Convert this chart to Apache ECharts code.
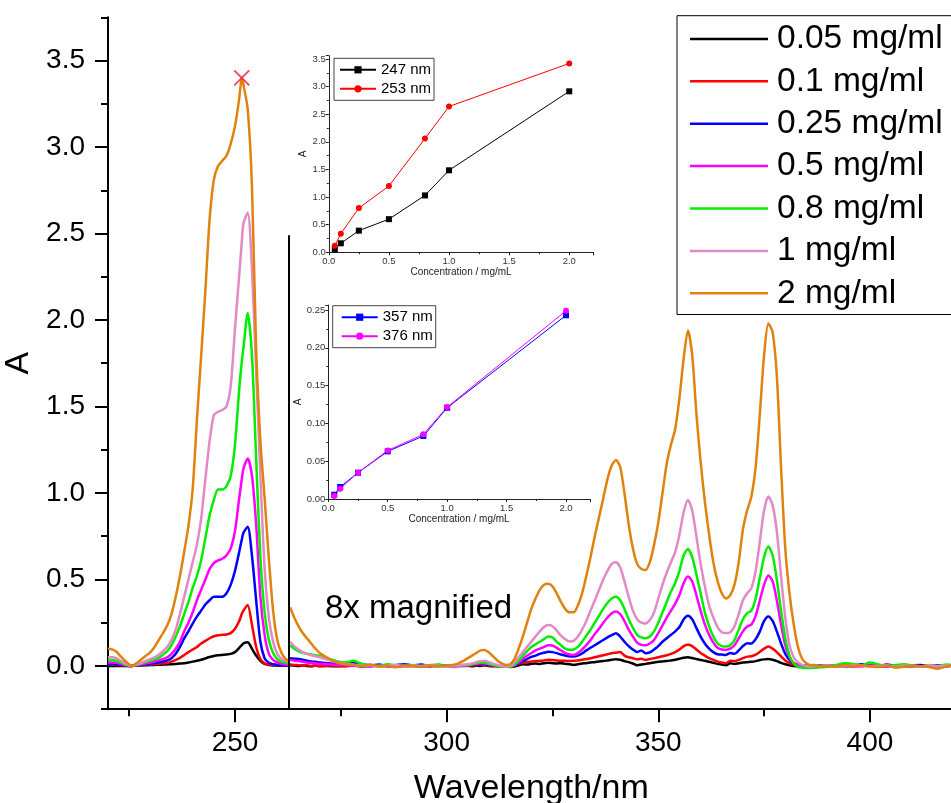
<!DOCTYPE html>
<html><head><meta charset="utf-8">
<script src="https://cdn.jsdelivr.net/npm/echarts@6/dist/echarts.min.js"></script>
<style>html,body{margin:0;padding:0;background:#fff}#c{width:951px;height:803px}</style>
</head><body><div id="c"></div>
<script>
// ---------- data ----------
const seriesNames = ['0.05 mg/ml','0.1 mg/ml','0.25 mg/ml','0.5 mg/ml','0.8 mg/ml','1 mg/ml','2 mg/ml'];
const seriesColors = ['#000000','#ff0000','#0000ff','#ff00ff','#00ee00','#e389c6','#e2820e'];

// wavelengths (nm) of the unmagnified part (left of the break)
const wlLeft = [220,221,222,223,224,225,225.6,226,227,228,229,230,231,232,233,234,235,236,237,238,239,240,241,242,243,244,245,246,247,248,249,250,251,251.6,252,253,254,255,256,257,258,259,260,261,262,262.8];
// wavelengths (nm) of the 8x magnified part (right of the break)
const wlRight = [263,264,265,266,267,268,269,270,272,274,276,278,280,282,284,286,288,290,292,294,296,298,300,302,
304,305,306,307,308,309,310,311,312,313,314,315,316,317,318,319,320,321,322,323,324,325,326,327,328,329,330,331,332,333,334,335,336,337,338,339,340,341,342,343,344,345,346,347,348,349,350,351,352,353,354,355,356,357,358,359,360,361,362,363,364,365,366,367,368,369,370,371,372,373,374,375,376,377,378,379,380,381,382,383,384,385,386,387,388,
390,392,394,396,398,400,402,404,406,408,410,412,414,416,418,420];

// absorbance, left part
const absL_005 = [0,0,0,0,0,0,0,0.001,0.002,0.003,0.004,0.005,0.006,0.007,0.008,0.009,0.01,0.012,0.014,0.016,0.02,0.025,0.03,0.036,0.044,0.052,0.058,0.062,0.064,0.066,0.07,0.08,0.105,0.12,0.13,0.137,0.10,0.06,0.03,0.012,0.006,0.003,0.002,0.001,0.001,0.001];
const absL_01 = [0.008,0.008,0.006,0.004,0.002,0,0,0.001,0.003,0.005,0.007,0.009,0.011,0.013,0.015,0.017,0.025,0.035,0.047,0.063,0.08,0.095,0.11,0.13,0.145,0.16,0.172,0.178,0.18,0.182,0.19,0.215,0.26,0.30,0.32,0.353,0.24,0.11,0.04,0.015,0.008,0.005,0.004,0.003,0.003,0.003];
const absL_025 = [0.012,0.012,0.01,0.007,0.004,0.001,0,0.001,0.004,0.007,0.01,0.013,0.017,0.021,0.026,0.032,0.045,0.07,0.11,0.16,0.20,0.245,0.285,0.32,0.355,0.38,0.40,0.40,0.40,0.42,0.47,0.55,0.66,0.73,0.77,0.805,0.64,0.38,0.14,0.045,0.018,0.01,0.006,0.004,0.003,0.003];
const absL_05 = [0.02,0.02,0.018,0.012,0.006,0.002,0,0.002,0.006,0.01,0.015,0.02,0.026,0.032,0.04,0.05,0.07,0.10,0.14,0.20,0.25,0.31,0.38,0.44,0.50,0.56,0.595,0.61,0.62,0.64,0.68,0.78,0.97,1.08,1.14,1.20,1.10,0.82,0.40,0.18,0.07,0.035,0.02,0.012,0.008,0.006];
const absL_08 = [0.035,0.035,0.03,0.02,0.01,0.003,0,0.002,0.008,0.015,0.022,0.03,0.038,0.048,0.065,0.085,0.12,0.17,0.23,0.30,0.37,0.45,0.52,0.61,0.74,0.87,0.96,1.02,1.02,1.04,1.10,1.28,1.60,1.76,1.84,2.04,1.80,1.20,0.63,0.31,0.15,0.075,0.04,0.025,0.018,0.015];
const absL_1 = [0.05,0.05,0.045,0.03,0.015,0.004,0,0.003,0.01,0.02,0.03,0.04,0.05,0.065,0.085,0.11,0.15,0.21,0.30,0.40,0.50,0.60,0.70,0.85,1.08,1.30,1.45,1.47,1.48,1.50,1.62,1.95,2.26,2.45,2.56,2.62,2.30,1.70,1.10,0.56,0.28,0.14,0.07,0.04,0.03,0.025];
const absL_2 = [0.10,0.096,0.082,0.055,0.03,0.008,0,0.004,0.02,0.04,0.06,0.08,0.11,0.15,0.19,0.235,0.30,0.40,0.52,0.66,0.81,1.02,1.42,1.79,2.17,2.58,2.81,2.89,2.92,2.95,3.02,3.12,3.28,3.40,3.36,3.22,2.78,1.83,1.30,0.97,0.62,0.32,0.15,0.075,0.04,0.03];

// displayed (8x magnified) absorbance, right part
const absR_005 = [0.004,0.002,0,0.003,0,-0.002,0.002,0,0,-0.002,0,0.002,-0.002,0,0.002,0,-0.003,0,0.002,-0.002,0,0.002,-0.002,0,
0,0.002,-0.002,0.002,0,0.004,0,-0.002,0,-0.004,-0.002,-0.006,-0.004,0.004,0.01,0.008,0.012,0.014,0.012,0.016,0.018,0.016,0.014,0.016,0.012,0.01,0.006,0.01,0.014,0.016,0.02,0.022,0.026,0.028,0.032,0.036,0.039,0.036,0.028,0.022,0.014,0.004,0.008,0.012,0.016,0.02,0.024,0.026,0.028,0.032,0.036,0.042,0.048,0.05,0.046,0.04,0.035,0.03,0.024,0.018,0.012,0.008,0.004,0.015,0.012,0.016,0.02,0.022,0.024,0.028,0.034,0.038,0.04,0.036,0.028,0.018,0.01,0.004,0,-0.002,-0.004,-0.002,0,-0.002,0,
0.002,0,-0.002,0,0.002,0,-0.002,0,0.002,0,-0.002,0,0.002,0,0,0.002];
const absR_01 = [0.008,0.006,0.004,0.002,0.004,0,0.002,-0.002,0.002,0,-0.002,0.002,0,0.003,-0.002,0,0.002,-0.003,0,0.002,-0.002,0,0.003,0,
0.002,0,0.004,0.006,0.008,0.006,0.002,0,-0.002,0,-0.004,-0.002,0.004,0.012,0.018,0.022,0.026,0.028,0.03,0.032,0.036,0.035,0.032,0.03,0.03,0.028,0.03,0.032,0.036,0.04,0.045,0.05,0.056,0.062,0.068,0.074,0.077,0.08,0.06,0.05,0.045,0.038,0.042,0.035,0.04,0.045,0.05,0.056,0.062,0.07,0.08,0.095,0.115,0.122,0.115,0.095,0.075,0.06,0.045,0.035,0.025,0.02,0.015,0.03,0.028,0.035,0.045,0.054,0.056,0.065,0.082,0.1,0.112,0.1,0.08,0.055,0.032,0.016,0.006,0,-0.004,-0.006,-0.004,-0.002,0,
-0.002,0,0.002,-0.002,0,0.002,-0.002,0,0.003,-0.002,0,0.002,0,-0.002,0.002,0];
const absR_025 = [0.045,0.042,0.04,0.036,0.03,0.026,0.024,0.02,0.016,0.012,0.01,0.018,0.006,0.002,0.008,0,0.005,0.01,0.003,0.008,0,0.006,0.002,0.004,
0.006,0.004,0.008,0.01,0.012,0.01,0.006,0.002,0,-0.002,0.002,0,0.006,0.015,0.028,0.04,0.052,0.06,0.07,0.076,0.082,0.08,0.074,0.066,0.06,0.056,0.054,0.06,0.072,0.09,0.105,0.12,0.135,0.15,0.165,0.178,0.189,0.17,0.14,0.115,0.095,0.08,0.09,0.073,0.078,0.095,0.115,0.14,0.16,0.18,0.2,0.225,0.27,0.29,0.27,0.22,0.17,0.13,0.1,0.08,0.068,0.066,0.064,0.075,0.07,0.09,0.115,0.131,0.13,0.155,0.2,0.26,0.286,0.26,0.2,0.13,0.07,0.035,0.015,0.006,0,0.002,0,-0.002,0.002,
0.004,0,0.006,0.002,0.01,0.004,0,0.008,0.002,0,0.004,0.006,0,0.004,0.002,0];
const absR_05 = [0.035,0.03,0.028,0.024,0.02,0.018,0.015,0.012,0.01,0.006,0.004,0,0.003,-0.004,0.002,0,-0.003,0.004,0,-0.002,0.003,0,0.002,-0.002,
0.002,0.004,0.008,0.012,0.016,0.014,0.01,0.004,0,-0.003,-0.005,-0.004,0.004,0.02,0.04,0.06,0.075,0.09,0.1,0.11,0.12,0.118,0.105,0.09,0.075,0.066,0.064,0.074,0.095,0.12,0.15,0.185,0.215,0.25,0.28,0.305,0.315,0.3,0.26,0.21,0.17,0.135,0.122,0.12,0.13,0.15,0.19,0.235,0.28,0.32,0.36,0.41,0.48,0.517,0.49,0.41,0.32,0.24,0.18,0.135,0.105,0.095,0.093,0.1,0.12,0.16,0.2,0.228,0.24,0.29,0.38,0.47,0.523,0.49,0.38,0.24,0.12,0.05,0.015,0.004,0,-0.003,-0.002,0,-0.002,
0.002,-0.003,0.004,0,-0.002,0.004,0,-0.004,0.002,0,0.004,-0.002,0.002,0,-0.003,0.002];
const absR_08 = [0.12,0.10,0.086,0.076,0.07,0.066,0.062,0.058,0.042,0.028,0.02,0.03,0.012,0.006,0,0.01,0.004,-0.002,0.006,0,0.004,0.008,0,0.004,
0.004,0.006,0.01,0.016,0.02,0.018,0.012,0.006,0,-0.004,0,-0.004,0.008,0.03,0.06,0.085,0.11,0.125,0.14,0.155,0.17,0.165,0.14,0.12,0.10,0.093,0.095,0.11,0.14,0.175,0.21,0.25,0.29,0.33,0.365,0.39,0.40,0.38,0.33,0.27,0.22,0.18,0.165,0.16,0.17,0.2,0.25,0.31,0.37,0.43,0.48,0.55,0.64,0.676,0.63,0.53,0.42,0.31,0.23,0.17,0.13,0.115,0.112,0.12,0.15,0.21,0.27,0.305,0.32,0.39,0.51,0.63,0.69,0.64,0.5,0.32,0.16,0.06,0.015,-0.005,-0.01,-0.012,-0.012,-0.01,-0.008,
-0.004,0.006,0.015,0.012,0.004,0.02,0.008,0,0.004,0.01,0.002,-0.004,0.006,0,0.008,0.004];
const absR_1 = [0.14,0.115,0.095,0.08,0.07,0.062,0.056,0.05,0.035,0.022,0.012,0.008,0.002,0.004,-0.004,0.003,0.006,-0.004,0.002,0,0.006,0,-0.004,0.002,
0.006,0.01,0.015,0.022,0.028,0.03,0.022,0.012,0.006,0,-0.004,0.002,0.02,0.05,0.08,0.11,0.14,0.17,0.2,0.225,0.237,0.23,0.205,0.175,0.155,0.142,0.145,0.17,0.21,0.26,0.32,0.38,0.44,0.5,0.55,0.59,0.6,0.57,0.49,0.4,0.32,0.27,0.25,0.245,0.265,0.31,0.39,0.47,0.54,0.6,0.66,0.76,0.89,0.96,0.9,0.75,0.59,0.46,0.35,0.28,0.225,0.195,0.19,0.195,0.23,0.3,0.38,0.42,0.45,0.55,0.72,0.9,0.98,0.93,0.78,0.52,0.28,0.12,0.05,0.02,0.006,0,-0.004,0.002,0,
0.004,-0.002,0,0.006,0.002,-0.004,0,0.004,-0.006,0.002,0,-0.004,0.004,-0.002,0.002,0];
const absR_2 = [0.34,0.28,0.23,0.19,0.16,0.13,0.10,0.075,0.045,0.02,0.01,0.005,0,0.008,-0.004,0.002,-0.008,0.003,0,-0.006,0.004,-0.003,0.002,0.008,
0.03,0.045,0.06,0.075,0.09,0.092,0.078,0.055,0.032,0.015,0.006,0.01,0.04,0.1,0.17,0.25,0.33,0.39,0.44,0.47,0.475,0.46,0.42,0.37,0.33,0.31,0.31,0.35,0.42,0.52,0.63,0.75,0.86,0.97,1.08,1.16,1.19,1.15,1.0,0.82,0.68,0.59,0.56,0.555,0.6,0.7,0.83,1.0,1.17,1.28,1.37,1.55,1.78,1.94,1.8,1.46,1.18,0.95,0.76,0.6,0.49,0.42,0.39,0.41,0.47,0.6,0.79,0.9,0.98,1.15,1.46,1.8,1.98,1.93,1.68,1.15,0.68,0.42,0.24,0.11,0.04,0.015,0.004,0.006,-0.002,
0,-0.004,0.006,0,0.004,-0.002,-0.006,0.002,-0.01,-0.004,0.003,-0.002,-0.006,-0.016,-0.004,0.006];

// maximum of the 2 mg/ml curve (red cross)
const peakWl = [251.6];
const peakAbs = [3.40];
// break between the normal and the 8x magnified part
const breakWl = 262.8;
const breakTopAbs = 2.49;

// inset calibration curves
const concentration = [0.05, 0.1, 0.25, 0.5, 0.8, 1.0, 2.0];
const abs247 = [0.054, 0.163, 0.392, 0.60, 1.03, 1.485, 2.915];
const abs253 = [0.12, 0.338, 0.80, 1.20, 2.06, 2.64, 3.42];
const abs357 = [0.0057, 0.0159, 0.0348, 0.063, 0.0833, 0.1207, 0.243];
const abs376 = [0.004, 0.0137, 0.0348, 0.0643, 0.0855, 0.1216, 0.249];

// tick label values
const yMajorTicks = [0, 0.5, 1.0, 1.5, 2.0, 2.5, 3.0, 3.5];
const xMajorTicks = [250, 300, 350, 400];
const xMinorTicks = [225, 275, 325, 375];

// ---------- chart ----------
const FONT = '"Liberation Sans", Arial, Helvetica, sans-serif';
const leftVals = [absL_005, absL_01, absL_025, absL_05, absL_08, absL_1, absL_2];
const rightVals = [absR_005, absR_01, absR_025, absR_05, absR_08, absR_1, absR_2];

const series = [];
seriesNames.forEach((name, i) => {
  [[wlLeft, leftVals[i]], [wlRight, rightVals[i]]].forEach(([wl, vals]) => {
    series.push({
      type: 'line', name: name, xAxisIndex: 0, yAxisIndex: 0,
      data: wl.map((w, k) => [w, vals[k]]),
      symbol: 'none', showSymbol: false, smooth: 0.25,
      lineStyle: { color: seriesColors[i], width: 2.5 },
      itemStyle: { color: seriesColors[i] },
      emphasis: { disabled: true }, z: 2
    });
  });
});
series.push({
  type: 'scatter', name: 'peak', xAxisIndex: 0, yAxisIndex: 0,
  data: peakWl.map((w, k) => [w, peakAbs[k]]),
  symbol: 'path://M0,0L10,10M10,0L0,10', symbolSize: 15,
  itemStyle: { color: 'rgba(0,0,0,0)', borderColor: '#e8203c', borderWidth: 2 },
  z: 5,
  markLine: {
    silent: true, symbol: 'none', label: { show: false },
    lineStyle: { color: '#000', width: 2, type: 'solid' },
    data: [[{ coord: [breakWl, -0.25] }, { coord: [breakWl, breakTopAbs] }]]
  }
});
const insetLine = (name, xi, yi, xs, ys, color, sym) => ({
  type: 'line', name, xAxisIndex: xi, yAxisIndex: yi,
  data: xs.map((c, k) => [c, ys[k]]),
  symbol: sym, symbolSize: 6, showSymbol: true,
  lineStyle: { color, width: 1 }, itemStyle: { color }, z: 3
});
series.push(insetLine('247 nm', 2, 2, concentration, abs247, '#000000', 'rect'));
series.push(insetLine('253 nm', 2, 2, concentration, abs253, '#ff0000', 'circle'));
series.push(insetLine('357 nm', 3, 3, concentration, abs357, '#0000ff', 'rect'));
series.push(insetLine('376 nm', 3, 3, concentration, abs376, '#ff00ff', 'circle'));

const insetX = (gi, gap) => ({
  type: 'value', gridIndex: gi, min: 0, max: 2.2, interval: 0.5, position: 'bottom',
  name: 'Concentration / mg/mL', nameLocation: 'middle', nameGap: gap,
  nameTextStyle: { fontFamily: FONT, fontSize: 10, color: '#222' },
  axisLine: { show: true, onZero: false, lineStyle: { color: '#222', width: 1 } },
  axisTick: { show: true, length: 3, lineStyle: { color: '#222' } },
  minorTick: { show: true, splitNumber: 2, length: 2, lineStyle: { color: '#222' } },
  axisLabel: { fontFamily: FONT, fontSize: 9.5, color: '#333', margin: 4, showMaxLabel: false, formatter: v => v.toFixed(1) },
  splitLine: { show: false }
});
const insetY = (gi, max, interval, dec) => ({
  type: 'value', gridIndex: gi, min: 0, max: max, interval: interval, position: 'left',
  name: 'A', nameLocation: 'middle', nameGap: 21,
  nameTextStyle: { fontFamily: FONT, fontSize: 10, color: '#222' },
  axisLine: { show: true, onZero: false, lineStyle: { color: '#222', width: 1 } },
  axisTick: { show: true, length: 3, lineStyle: { color: '#222' } },
  minorTick: { show: true, splitNumber: 2, length: 2, lineStyle: { color: '#222' } },
  axisLabel: { fontFamily: FONT, fontSize: 9.5, color: '#333', margin: 3, showMaxLabel: false, formatter: v => v.toFixed(dec) },
  splitLine: { show: false }
});

const option = {
  animation: false,
  backgroundColor: '#ffffff',
  textStyle: { fontFamily: FONT },
  grid: [
    { left: 108, top: 17.3, width: 846.6, height: 691.9, containLabel: false, outerBoundsMode: 'none' },
    { left: 328.8, top: 55.7, width: 264.5, height: 196.6, containLabel: false, outerBoundsMode: 'none' },
    { left: 328.3, top: 305, width: 261.5, height: 194, containLabel: false, outerBoundsMode: 'none' }
  ],
  xAxis: [
    { type: 'value', gridIndex: 0, min: 220, max: 420, position: 'bottom',
      name: 'Wavelength/nm', nameLocation: 'middle', nameGap: 62,
      nameTextStyle: { fontFamily: FONT, fontSize: 34, color: '#000' },
      axisLine: { show: true, onZero: false, lineStyle: { color: '#000', width: 2 } },
      axisTick: { show: true, length: 13, customValues: xMajorTicks, lineStyle: { color: '#000', width: 2 } },
      axisLabel: { fontFamily: FONT, fontSize: 28, color: '#000', margin: 20, customValues: xMajorTicks, formatter: v => String(v) },
      splitLine: { show: false } },
    { type: 'value', gridIndex: 0, min: 220, max: 420, position: 'bottom',
      axisLine: { show: false, onZero: false },
      axisTick: { show: true, length: 7, customValues: xMinorTicks, lineStyle: { color: '#000', width: 2 } },
      axisLabel: { show: false }, splitLine: { show: false } },
    insetX(1, 15),
    insetX(2, 13)
  ],
  yAxis: [
    { type: 'value', gridIndex: 0, min: -0.25, max: 3.75, interval: 0.25, position: 'left',
      name: 'A', nameLocation: 'middle', nameGap: 60,
      nameTextStyle: { fontFamily: FONT, fontSize: 34, color: '#000' },
      axisLine: { show: true, onZero: false, lineStyle: { color: '#000', width: 2 } },
      axisTick: { show: true, length: 7, lineStyle: { color: '#000', width: 2 } },
      axisLabel: { fontFamily: FONT, fontSize: 28, color: '#000', margin: 23,
        formatter: v => (Math.abs(v * 2 - Math.round(v * 2)) < 1e-6 && v >= 0 && v <= 3.5) ? v.toFixed(1) : '' },
      splitLine: { show: false } },
    { type: 'value', gridIndex: 0, min: -0.25, max: 3.75, position: 'left',
      axisLine: { show: false, onZero: false },
      axisTick: { show: true, length: 13, customValues: yMajorTicks, lineStyle: { color: '#000', width: 2 } },
      axisLabel: { show: false }, splitLine: { show: false } },
    insetY(1, 3.56, 0.5, 1),
    insetY(2, 0.2566, 0.05, 2)
  ],
  legend: [
    { data: seriesNames, orient: 'vertical', left: 677, top: 15.7,
      padding: [2, 20, 0, 13], itemGap: 0, itemWidth: 78, itemHeight: 2.5, icon: 'rect',
      borderColor: '#000', borderWidth: 1, selectedMode: false,
      textStyle: { fontFamily: FONT, fontSize: 33.5, color: '#000', lineHeight: 42.4, padding: [0, 0, 0, 4] } },
    { data: ['247 nm', '253 nm'], orient: 'vertical', left: 334, top: 58.3,
      padding: [2, 3, 2, 5], itemGap: 0, itemWidth: 36, itemHeight: 9, selectedMode: false,
      borderColor: '#444', borderWidth: 1,
      textStyle: { fontFamily: FONT, fontSize: 15, color: '#000', lineHeight: 19 } },
    { data: ['357 nm', '376 nm'], orient: 'vertical', left: 332.7, top: 305.7,
      padding: [2, 3, 2, 8], itemGap: 0, itemWidth: 36, itemHeight: 9, selectedMode: false,
      borderColor: '#444', borderWidth: 1,
      textStyle: { fontFamily: FONT, fontSize: 15, color: '#000', lineHeight: 19 } }
  ],
  graphic: [
    { type: 'text', left: 325, top: 592, silent: true,
      style: { text: '8x magnified', font: '33px ' + FONT, fill: '#000' } }
  ],
  series: series
};
const chart = echarts.init(document.getElementById('c'), null, { renderer: 'canvas' });
chart.setOption(option);
</script>
</body></html>
